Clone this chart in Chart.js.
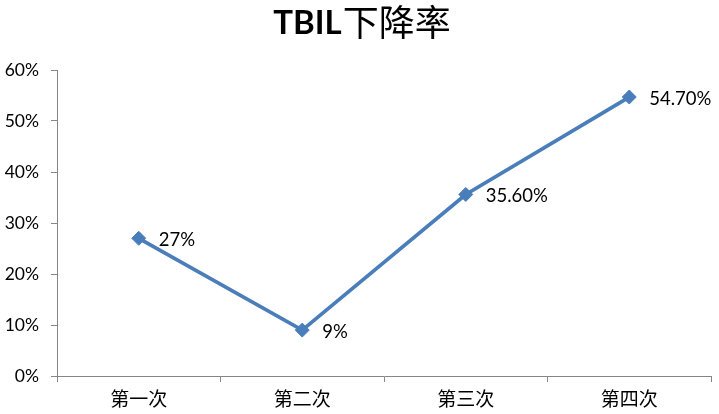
<!DOCTYPE html>
<html>
<head>
<meta charset="utf-8">
<script src="https://cdn.jsdelivr.net/npm/chart.js@4/dist/chart.umd.min.js"></script>
<style>
  html, body { margin: 0; padding: 0; background: #fff; }
  #wrap { width: 719px; height: 414px; position: relative; }
</style>
</head>
<body>
<div id="wrap"><canvas id="myChart"></canvas></div>
<script>
// data
const categories = ['第一次', '第二次', '第三次', '第四次'];
const rates = [27, 9, 35.6, 54.7];
const rateLabels = ['27%', '9%', '35.60%', '54.70%'];
const titleLatin = 'TBIL';
const titleCjk = '下降率';

const FONT = "Lato, 'Noto Sans CJK SC', sans-serif";
const lineBlue = '#4a7ebb';

// title: bold latin part + regular chinese part, like the original
const mixedTitle = {
  id: 'mixedTitle',
  afterDraw(chart) {
    const { ctx, width } = chart;
    ctx.save();
    const fLatin = `bold 33px ${FONT}`;
    const fCjk = `36px 'Noto Sans CJK SC', sans-serif`;
    ctx.font = fLatin;
    const w1 = ctx.measureText(titleLatin).width;
    ctx.font = fCjk;
    const w2 = ctx.measureText(titleCjk).width;
    let x = (width - w1 - w2) / 2 + 2;
    const base = 34;
    ctx.fillStyle = '#000';
    ctx.textAlign = 'left';
    ctx.textBaseline = 'alphabetic';
    ctx.font = fLatin;
    ctx.fillText(titleLatin, x, base);
    ctx.font = fCjk;
    ctx.fillText(titleCjk, x + w1 + 1, base + 2);
    ctx.restore();
  }
};

// draws the value text to the right of every point
const pointLabels = {
  id: 'pointLabels',
  afterDatasetsDraw(chart) {
    const { ctx } = chart;
    const meta = chart.getDatasetMeta(0);
    ctx.save();
    ctx.font = `18.5px ${FONT}`;
    ctx.fillStyle = '#000';
    ctx.textAlign = 'left';
    ctx.textBaseline = 'middle';
    meta.data.forEach((pt, i) => {
      ctx.fillText(rateLabels[i], pt.x + 20, pt.y + 2);
    });
    ctx.restore();
  }
};

const config = {
  type: 'line',
  data: {
    labels: categories,
    datasets: [{
      data: rates,
      borderColor: lineBlue,
      backgroundColor: lineBlue,
      borderWidth: 3.75,
      pointStyle: 'rectRot',
      pointRadius: 7,
      pointHoverRadius: 7,
      pointBorderWidth: 1,
      tension: 0
    }]
  },
  options: {
    responsive: true,
    maintainAspectRatio: false,
    animation: false,
    layout: { padding: { top: 70, right: 4, bottom: 0, left: 0 } },
    plugins: {
      legend: { display: false },
      tooltip: { enabled: false },
      title: { display: false }
    },
    scales: {
      x: {
        offset: true,
        grid: {
          offset: true,
          drawOnChartArea: false,
          drawTicks: true,
          tickLength: 6,
          color: '#868686'
        },
        border: { color: '#868686', width: 1 },
        ticks: {
          color: '#000',
          padding: 6,
          font: { family: FONT, size: 19 }
        },
        afterFit(scale) { scale.height = 38; }
      },
      y: {
        min: 0,
        max: 60,
        grid: {
          drawOnChartArea: false,
          drawTicks: true,
          tickLength: 6,
          color: '#868686'
        },
        border: { color: '#868686', width: 1 },
        ticks: {
          stepSize: 10,
          color: '#000',
          padding: 12,
          font: { family: FONT, size: 17.5 },
          callback: v => v + '%'
        },
        afterFit(scale) { scale.width = 57; }
      }
    }
  },
  plugins: [pointLabels, mixedTitle]
};

const myChart = new Chart(document.getElementById('myChart'), config);
</script>
</body>
</html>
